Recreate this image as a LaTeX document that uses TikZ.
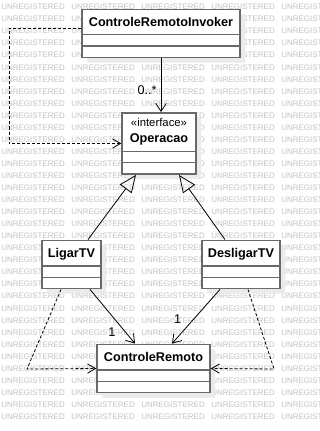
\documentclass[tikz,border=0pt]{standalone}
\usepackage{fontspec}
\setmainfont{Liberation Sans}
\usetikzlibrary{shapes.multipart,arrows.meta,calc,shadows}
\definecolor{boxgray}{RGB}{105,105,105}
\definecolor{markgray}{RGB}{195,195,195}
% class name with a fixed-height strut, and the two empty compartments
\newcommand{\cname}[1]{\rule[-6pt]{0pt}{18pt}#1}
\newcommand{\emptyparts}{\nodepart{two}\rule{0pt}{7.5pt}\nodepart{three}\rule{0pt}{7.5pt}}

\begin{document}
\begin{tikzpicture}[x=0.75pt,y=-0.75pt,
    classbox/.style={rectangle split, rectangle split parts=3, draw=boxgray,
        line width=1.1pt, fill=white, inner xsep=0pt, inner ysep=0pt,
        align=center, font=\fontsize{9.5}{12}\selectfont\bfseries,
        drop shadow={shadow xshift=3.75pt, shadow yshift=-3.75pt, fill=black!8, opacity=1}},
    wmark/.style={text=markgray, font=\fontsize{6}{6}\selectfont, inner sep=0pt, anchor=west},
    assoc/.style={line width=0.6pt, -{Straight Barb[length=6pt,width=8pt]}},
    gen/.style={line width=0.6pt, -{Triangle[open,length=13pt,width=11pt]}},
    dep/.style={line width=0.6pt, dash pattern=on 2.25pt off 1.5pt, -{Straight Barb[length=6pt,width=7pt]}},
    mult/.style={font=\fontsize{9.5}{11}\selectfont, inner sep=0pt}]
    \useasboundingbox (0,0) rectangle (320,431);
    \fill[white] (0,0) rectangle (320,431);
    % watermark rows
    \foreach \r in {0,...,34} {
        \foreach \c in {0,...,4} {
            \node[wmark] (w-\r-\c) at (1+\c*70, 7+\r*12.05) {UNREGISTERED};
        }
    }
    % classes
    \node[classbox, text width=118.5pt] (inv) at (161,33.5)
        {\cname{ControleRemotoInvoker}\emptyparts};
    \node[classbox, text width=55.5pt] (op) at (159,143.5)
        {\rule{0pt}{9.5pt}{\mdseries\fontsize{8.5}{12}\selectfont «interface»}\\Operacao\rule[-6.25pt]{0pt}{0pt}\emptyparts};
    \node[classbox, text width=44.25pt] (lig) at (71.5,264.5)
        {\cname{LigarTV}\emptyparts};
    \node[classbox, text width=58.5pt] (des) at (241,264.5)
        {\cname{DesligarTV}\emptyparts};
    \node[classbox, text width=84.75pt] (ctrl) at (153.5,368.5)
        {\cname{ControleRemoto}\emptyparts};
    % invoker -> operacao
    \draw[assoc] (inv.south) -- (inv.south |- op.north)
        node[mult, pos=0.6, left=3pt] (m0) {0..*};
    \draw[dep] ($(inv.west)+(0,-5)$) -- ++(-72,0) coordinate (c1) |- (op.west);
    % realizations
    \draw[gen] ($(lig.north)+(16.5,0)$) -- ($(op.south)+(-23,0)$);
    \draw[gen] ($(des.north)+(-16,0)$) -- ($(op.south)+(20,0)$);
    % receivers
    \draw[assoc] ($(lig.south)+(18.5,0)$) -- ($(ctrl.north)+(-18.5,0)$)
        node[mult, pos=0.78, left=7pt] (m1) {1};
    \draw[assoc] ($(des.south)+(-21,0)$) -- ($(ctrl.north)+(18.5,0)$)
        node[mult, pos=0.55, left=9pt] (m2) {1};
    \draw[dep] ($(lig.south)+(-10.5,0)$) -- (27,369) coordinate (c2) -- (ctrl.west);
    \draw[dep] ($(des.south)+(7,0)$) -- (274,369) coordinate (c3) -- (ctrl.east);
\end{tikzpicture}
\end{document}
